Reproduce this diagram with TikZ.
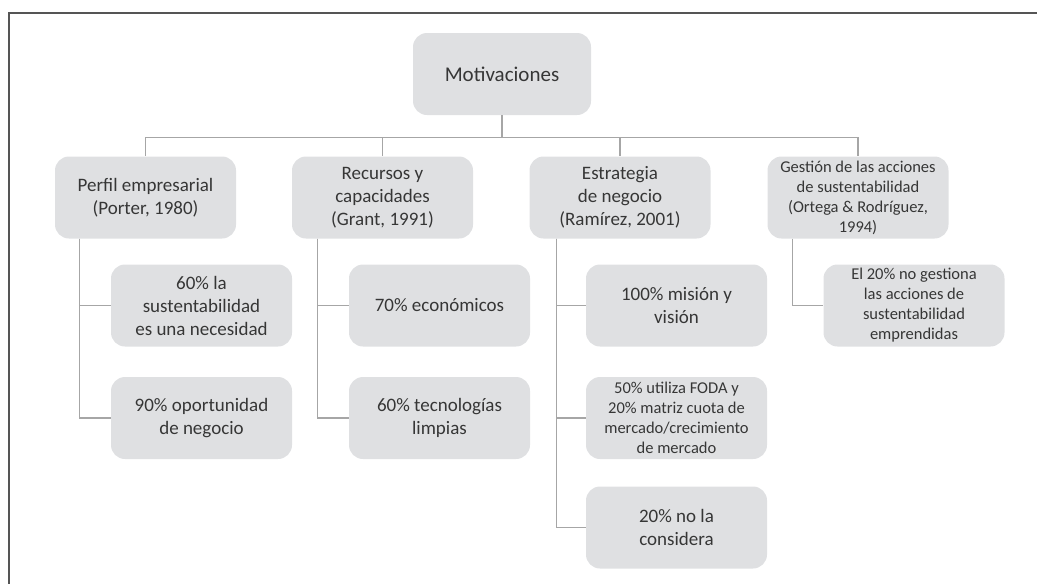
\documentclass[tikz,border=0pt]{standalone}
\usepackage{fontspec}
\setmainfont{Carlito}
\definecolor{boxfill}{HTML}{DFE0E2}
\definecolor{linegray}{HTML}{A6A6A6}
\definecolor{txt}{HTML}{363636}
\definecolor{frame}{HTML}{555555}
\tikzset{
  box/.style={draw=none, fill=boxfill, rounded corners=14pt, inner sep=0pt,
    minimum width=181pt, minimum height=82pt, align=center, text=txt,
    font=\fontsize{19}{23}\selectfont},
  smallbox/.style={box, font=\fontsize{16.5}{20}\selectfont},
  conn/.style={draw=linegray, line width=1.2pt}
}
\begin{document}
\begin{tikzpicture}[x=1pt,y=-1pt]
\useasboundingbox (0,0) rectangle (1037,584);
\draw[frame, line width=1.5pt] (9,590) -- (9,13) -- (1045,13);

\node[box, minimum width=178pt, font=\fontsize{21}{25}\selectfont] (M) at (502,74) {Motivaciones};

\node[box] (B1) at (145.5,197.5) {Perfil empresarial\\(Porter, 1980)};
\node[box] (B2) at (382.5,197.5) {Recursos y\\capacidades\\(Grant, 1991)};
\node[box] (B3) at (620,197.5) {Estrategia\\de negocio\\(Ramírez, 2001)};
\node[smallbox] (B4) at (858,197.5) {Gestión de las acciones\\de sustentabilidad\\(Ortega \& Rodríguez,\\1994)};

\node[box] (A1) at (201.5,305.5) {60\% la\\sustentabilidad\\es una necesidad};
\node[box] (A2) at (201.5,418) {90\% oportunidad\\de negocio};
\node[box] (C1) at (439.5,305.5) {70\% económicos};
\node[box] (C2) at (439.5,418) {60\% tecnologías\\limpias};
\node[box] (D1) at (676.5,305.5) {100\% misión y\\visión};
\node[smallbox] (D2) at (676.5,418) {50\% utiliza FODA y\\20\% matriz cuota de\\mercado/crecimiento\\de mercado};
\node[box] (D3) at (676.5,527.5) {20\% no la\\considera};
\node[smallbox] (E1) at (914,305.5) {El 20\% no gestiona\\las acciones de\\sustentabilidad\\emprendidas};

\foreach \b in {B1,B2,B3,B4}
  \draw[conn] (M.south) -- ++(0,22) -| (\b.north);

\draw[conn] ([xshift=25pt]B1.south west) |- (A1.west);
\draw[conn] ([xshift=25pt]B1.south west) |- (A2.west);
\draw[conn] ([xshift=26pt]B2.south west) |- (C1.west);
\draw[conn] ([xshift=26pt]B2.south west) |- (C2.west);
\draw[conn] ([xshift=27pt]B3.south west) |- (D1.west);
\draw[conn] ([xshift=27pt]B3.south west) |- (D2.west);
\draw[conn] ([xshift=27pt]B3.south west) |- (D3.west);
\draw[conn] ([xshift=25pt]B4.south west) |- (E1.west);
\end{tikzpicture}
\end{document}
